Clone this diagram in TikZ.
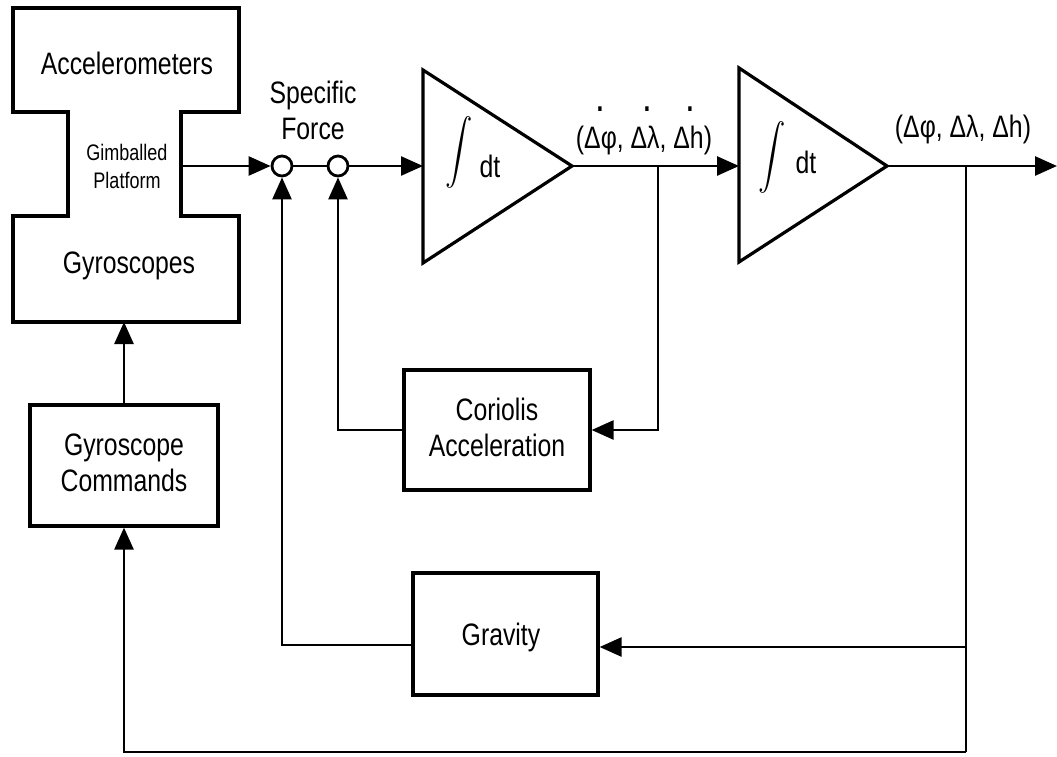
\documentclass[tikz,border=0pt]{standalone}
\usepackage{amsmath}
\usepackage{graphicx}
\usepackage{fontspec}
\setmainfont[FakeStretch=0.8]{Liberation Sans}
\usetikzlibrary{arrows.meta}
% dot centred over the junction of two glyphs (time derivative mark)
\newcommand\topdot{\makebox[0pt]{\raisebox{36pt}{\fontsize{44}{44}\selectfont .}}}
% tall integral sign for the integrator blocks
\newcommand\bigint{\scalebox{1.1}[1.3]{$\displaystyle\int$}}
\begin{document}
\begin{tikzpicture}[x=1pt,y=-1pt,
  outline/.style={line width=3.2pt, line join=miter},
  block/.style={draw, line width=3.2pt, rectangle, inner sep=0pt},
  wire/.style={line width=2.6pt},
  arr/.style={wire, -{Triangle[length=22pt,width=19pt]}},
  sumpt/.style={draw, circle, line width=2.8pt, minimum size=20pt, inner sep=0pt},
  lbl/.style={font=\fontsize{31}{36}\selectfont, align=center, inner sep=0pt},
  small/.style={font=\fontsize{22.5}{28}\selectfont, align=center, inner sep=0pt},
  ]
\useasboundingbox (0,0) rectangle (1057,757);

% gimballed platform outline (accelerometers on top, gyroscopes below)
\draw[outline] (13,8) -- (239,8) -- (239,112) -- (181,112) -- (181,216)
  -- (239,216) -- (239,322) -- (13,322) -- (13,216) -- (68,216)
  -- (68,112) -- (13,112) -- cycle;
\node[lbl, anchor=base] (acc) at (127,75) {Accelerometers};
\node[small] (gimb) at (127,166) {Gimballed\\Platform};
\node[lbl, anchor=base] (gyro) at (129,273) {Gyroscopes};
\coordinate (gimR) at (181,166);
\coordinate (gimB) at (124,322);

% summing junctions
\node[sumpt] (s1) at (282,166) {};
\node[sumpt] (s2) at (338,166) {};
\node[lbl] (sf) at (313,110) {Specific\\Force};

% integrators
\draw[outline] (423,70) -- (572,166) -- (423,263) -- cycle;
\coordinate (t1L) at (423,166);
\coordinate (t1A) at (572,166);
\node[lbl] (int1) at (459,152) {\bigint};
\node[lbl, anchor=base] (dt1) at (490,177) {dt};

\draw[outline] (739,68) -- (887,166) -- (739,262) -- cycle;
\coordinate (t2L) at (739,166);
\coordinate (t2A) at (887,166);
\node[lbl] (int2) at (772,157) {\bigint};
\node[lbl, anchor=base] (dt2) at (806,173) {dt};

% rates and positions
\node[lbl, anchor=base] (rates) at (644,148) {(Δ\topdot φ,  Δ\topdot λ,  Δ\topdot h)};
\node[lbl, anchor=base] (pos) at (963,138) {(Δφ,  Δλ,  Δh)};

% blocks
\node[block, minimum width=188pt, minimum height=121pt] (gc) at (124,465.5) {};
\node[lbl] (gctext) at (124,463) {Gyroscope\\Commands};
\node[block, minimum width=186pt, minimum height=120pt] (cor) at (497,430) {};
\node[lbl] (cortext) at (497,427) {Coriolis\\Acceleration};
\node[block, minimum width=185pt, minimum height=122pt] (grav) at (505.5,634) {};
\node[lbl, anchor=base] (gravtext) at (501,645) {Gravity};

% forward path
\draw[arr] (gimR) -- (s1.west);
\draw[wire] (s1.east) -- (s2.west);
\draw[arr] (s2.east) -- (t1L);
\draw[arr] (t1A) -- (t2L);
\coordinate (out) at (1057,166);
\draw[arr] (t2A) -- (out);

% Coriolis loop
\coordinate (tap1) at (658,166);
\coordinate (ctap) at (658,430);
\coordinate (cout) at (338,430);
\draw[arr] (tap1) -- (ctap) -- (ctap -| cor.east);
\draw[arr] (cout -| cor.west) -- (cout) -- (s2.south);

% gravity loop and gyroscope command loop
\coordinate (tap2) at (966,166);
\coordinate (gtap) at (966,647);
\coordinate (btm) at (966,752);
\coordinate (gout) at (282,645);
\draw[wire] (tap2) -- (btm);
\draw[arr] (gtap) -- (gtap -| grav.east);
\draw[arr] (gout -| grav.west) -- (gout) -- (s1.south);
\draw[arr] (btm) -| (gc.south);
\draw[arr] (gc.north) -- (gimB);
\end{tikzpicture}
\end{document}
